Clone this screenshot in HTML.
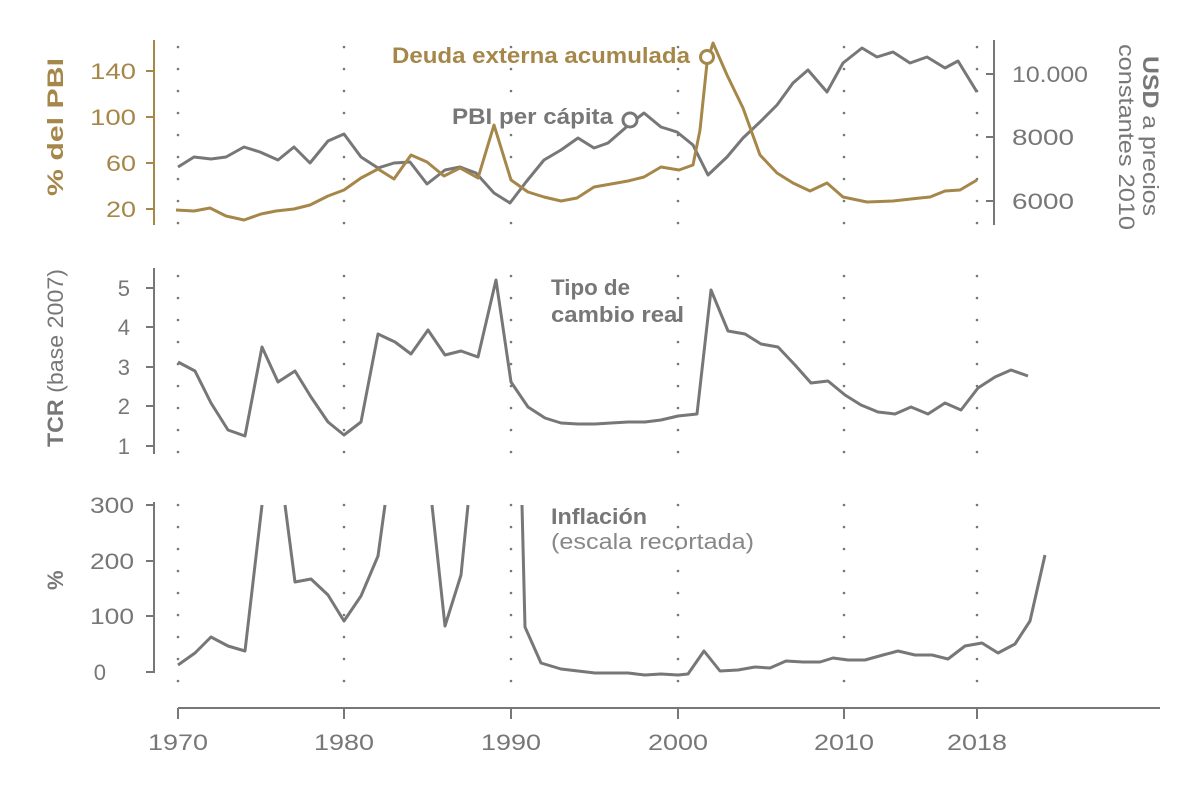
<!DOCTYPE html>
<html><head><meta charset="utf-8"><style>
body{margin:0;background:#fff}
svg{display:block;font-family:"Liberation Sans",sans-serif}
</style></head><body>
<svg width="1200" height="788" viewBox="0 0 1200 788" xmlns="http://www.w3.org/2000/svg">
<g stroke="#777" stroke-width="2.6" stroke-dasharray="0 22" stroke-linecap="round">
<path d="M178 47V232M344 47V232M511 47V232M678 47V232M844 47V232M977 47V232"/>
<path d="M178 276V455M344 276V455M511 276V455M678 276V455M844 276V455M977 276V455"/>
<path d="M178 505V684M344 505V684M511 505V684M678 505V684M844 505V684M977 505V684"/>
</g>
<g fill="none" stroke-width="2">
<path d="M154 40V225M146 71H154M146 117H154M146 163H154M146 209H154" stroke="#a6874a"/>
<path d="M994 40V225M994 74H986M994 137H986M994 201H986" stroke="#777"/>
<path d="M154 268V454M146 288H154M146 327H154M146 367H154M146 406H154M146 446H154" stroke="#777"/>
<path d="M154 502V673M146 505H154M146 561H154M146 616H154M146 672H154" stroke="#777"/>
<path d="M178 708H1160M178 708V719M344 708V719M511 708V719M678 708V719M844 708V719M977 708V719" stroke="#777"/>
</g>
<g font-size="22" fill="#a6874a" text-anchor="end">
<text x="136" y="79" textLength="46" lengthAdjust="spacingAndGlyphs">140</text><text x="136" y="125" textLength="46" lengthAdjust="spacingAndGlyphs">100</text><text x="136" y="171" textLength="30" lengthAdjust="spacingAndGlyphs">60</text><text x="136" y="217" textLength="30" lengthAdjust="spacingAndGlyphs">20</text>
</g>
<g font-size="22" fill="#777">
<text x="1012" y="82" textLength="76" lengthAdjust="spacingAndGlyphs">10.000</text><text x="1012" y="145" textLength="62" lengthAdjust="spacingAndGlyphs">8000</text><text x="1012" y="209" textLength="62" lengthAdjust="spacingAndGlyphs">6000</text>
</g>
<g font-size="22" fill="#777" text-anchor="end">
<text x="130" y="296">5</text><text x="130" y="335">4</text><text x="130" y="375">3</text><text x="130" y="414">2</text><text x="130" y="454">1</text>
<text x="134" y="513" textLength="44" lengthAdjust="spacingAndGlyphs">300</text><text x="134" y="569" textLength="44" lengthAdjust="spacingAndGlyphs">200</text><text x="134" y="624" textLength="44" lengthAdjust="spacingAndGlyphs">100</text><text x="106" y="680">0</text>
</g>
<g font-size="22" fill="#777" text-anchor="middle">
<text x="178" y="750" textLength="60" lengthAdjust="spacingAndGlyphs">1970</text><text x="344" y="750" textLength="60" lengthAdjust="spacingAndGlyphs">1980</text><text x="511" y="750" textLength="60" lengthAdjust="spacingAndGlyphs">1990</text><text x="678" y="750" textLength="60" lengthAdjust="spacingAndGlyphs">2000</text><text x="844" y="750" textLength="60" lengthAdjust="spacingAndGlyphs">2010</text><text x="977" y="750" textLength="60" lengthAdjust="spacingAndGlyphs">2018</text>
</g>
<text transform="translate(63 196) rotate(-90)" font-size="22" font-weight="bold" fill="#a6874a" textLength="138" lengthAdjust="spacingAndGlyphs">% del PBI</text>
<text transform="translate(63 447) rotate(-90)" font-size="22" fill="#777" textLength="178" lengthAdjust="spacingAndGlyphs"><tspan font-weight="bold">TCR</tspan> (base 2007)</text>
<text transform="translate(63 590) rotate(-90)" font-size="22" font-weight="bold" fill="#777">%</text>
<text transform="translate(1143 56) rotate(90)" font-size="22" fill="#777" textLength="160" lengthAdjust="spacingAndGlyphs"><tspan font-weight="bold">USD</tspan> a precios</text>
<text transform="translate(1119 44) rotate(90)" font-size="22" fill="#777" textLength="186" lengthAdjust="spacingAndGlyphs">constantes 2010</text>
<text x="392" y="63" font-size="22" font-weight="bold" fill="#a6874a" textLength="298" lengthAdjust="spacingAndGlyphs">Deuda externa acumulada</text>
<text x="452" y="124" font-size="22" font-weight="bold" fill="#777" textLength="161" lengthAdjust="spacingAndGlyphs">PBI per cápita</text>
<text x="551" y="295" font-size="22" font-weight="bold" fill="#777" textLength="79" lengthAdjust="spacingAndGlyphs">Tipo de</text>
<text x="551" y="322" font-size="22" font-weight="bold" fill="#777" textLength="133" lengthAdjust="spacingAndGlyphs">cambio real</text>
<text x="551" y="524" font-size="22" font-weight="bold" fill="#777" textLength="96" lengthAdjust="spacingAndGlyphs">Inflación</text>
<text x="551" y="549" font-size="22" fill="#888" textLength="203" lengthAdjust="spacingAndGlyphs">(escala recortada)</text>
<g fill="none" stroke-width="3" stroke-linejoin="round">
<polyline stroke="#777" points="178,167 194,157 211,159 226,157 244,147 260,152 278,160 294,147 310,163 328,141 344,134 361,157 378,168 394,163 410,162 427,184 445,170 460,167 476,173 494,193 510,203 526,182 544,160 561,150 578,138 594,148 608,143 631,123 644,113 661,127 677,132 693,145 708,175 727,157 743,138 760,122 777,105 793,83 808,70 827,92 843,63 862,48 877,57 893,52 910,63 927,57 945,68 958,61 977,92"/>
<polyline stroke="#a6874a" points="176,210 194,211 210,208 226,216 244,220 261,214 276,211 294,209 310,205 328,196 344,190 361,178 378,169 394,179 411,155 427,162 444,176 460,168 478,178 494,125 511,180 528,192 544,197 561,201 577,198 594,187 611,184 628,181 644,177 661,167 679,170 693,165 700,130 707,63 713,43 727,75 743,108 760,155 777,173 793,183 810,191 827,183 843,197 867,202 893,201 920,198 930,197 945,191 960,190 977,180"/>
<polyline stroke="#777" points="178,362 195,371 211,403 228,430 245,436 262,347 278,382 295,371 311,397 328,422 344,435 361,422 378,334 395,342 411,354 428,330 445,355 461,351 478,357 496,280 511,382 528,407 545,418 561,423 578,424 595,424 611,423 628,422 645,422 661,420 678,416 697,414 711,290 728,331 745,334 761,344 778,347 795,365 811,383 828,381 845,395 861,405 878,412 895,414 911,407 928,414 945,403 961,410 978,388 995,377 1011,370 1028,376"/>
<polyline stroke="#777" points="178,665 195,653 211,637 228,646 245,651 262,505"/>
<polyline stroke="#777" points="285,505 295,582 311,579 328,595 344,621 361,596 378,556 385,505"/>
<polyline stroke="#777" points="432,505 445,626 461,575 468,505"/>
<polyline stroke="#777" points="522,505 525,627 541,663 561,669 578,671 595,673 611,673 628,673 645,675 661,674 678,675 688,674 704,651 720,671 738,670 755,667 770,668 786,661 803,662 820,662 833,658 848,660 865,660 883,655 898,651 915,655 932,655 948,659 965,646 982,643 998,653 1015,644 1030,621 1045,555"/>
</g>
<circle cx="707" cy="57" r="6.5" fill="#fff" stroke="#a6874a" stroke-width="3"/>
<circle cx="630" cy="120" r="7" fill="#fff" stroke="#777" stroke-width="3"/>
</svg>
</body></html>
